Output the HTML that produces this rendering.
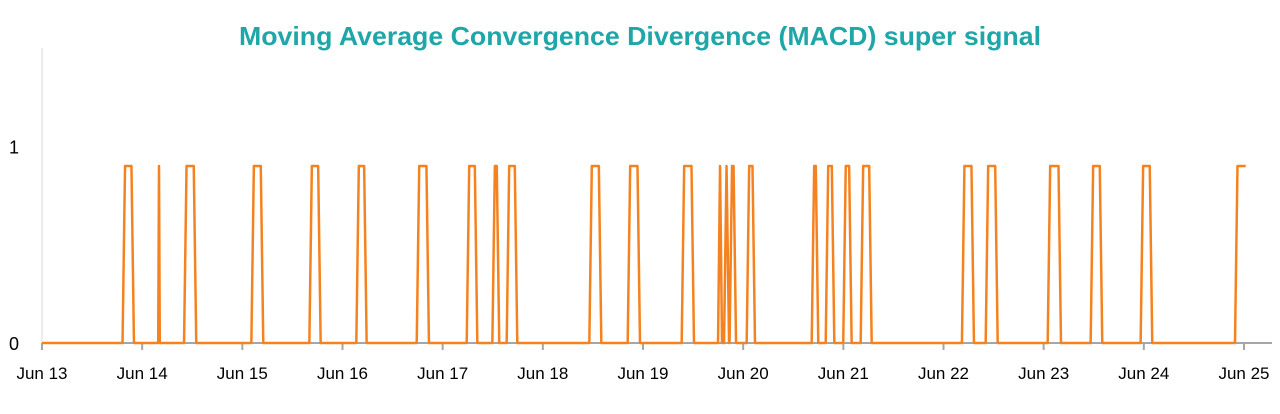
<!DOCTYPE html>
<html><head><meta charset="utf-8"><style>
html,body{margin:0;padding:0;background:#fff;}
svg{display:block;font-family:"Liberation Sans",sans-serif;}
</style></head><body>
<svg id="chart" width="1280" height="414" viewBox="0 0 1280 414">
<text x="640" y="45" text-anchor="middle" font-size="26" font-weight="bold" fill="#1fa6a8" textLength="802" lengthAdjust="spacingAndGlyphs">Moving Average Convergence Divergence (MACD) super signal</text>
<g id="axes"></g>
<g id="series"></g>
</svg>
<script>
const tickLabels = ["Jun 13","Jun 14","Jun 15","Jun 16","Jun 17","Jun 18","Jun 19","Jun 20","Jun 21","Jun 22","Jun 23","Jun 24","Jun 25"];
const yTicks = [0, 1];
const pulseStarts = [0.804,1.160,1.418,2.090,2.669,3.138,3.741,4.240,4.496,4.639,5.464,5.847,6.386,6.749,6.809,6.864,7.035,7.684,7.824,7.999,8.173,9.184,9.421,10.040,10.469,10.968,11.910];
const pulseEnds   = [0.918,1.176,1.540,2.209,2.782,3.241,3.863,4.346,4.565,4.745,5.584,5.970,6.509,6.789,6.859,6.929,7.118,7.750,7.910,8.083,8.283,9.304,9.541,10.173,10.585,11.084,12.017];
const signalLevel = 0.9;
const xMax = 12, yMax = 1.5;

const NS = "http://www.w3.org/2000/svg";
const X0 = 42, X1 = 1244, Y0 = 343, Y1 = 48;
const xs = v => X0 + (X1 - X0) * v / xMax;
const ys = v => Y0 - (Y0 - Y1) * v / yMax;
function mk(tag, attrs, parent){const e=document.createElementNS(NS,tag);for(const k in attrs)e.setAttribute(k,attrs[k]);parent.appendChild(e);return e;}
const axes = document.getElementById('axes');
const series = document.getElementById('series');

const yAxis = mk('line',{x1:X0,x2:X0,y1:Y1,y2:Y0,stroke:'#d9d9d9','stroke-width':1},axes);


yTicks.forEach(v=>{
  const t = mk('text',{x:19,y:ys(v)+7,'text-anchor':'end','font-size':18,fill:'#000'},axes);
  t.textContent = String(v);
  
  
});
const xAxis = mk('line',{x1:X0,x2:1272,y1:Y0,y2:Y0,stroke:'#a6a6a6','stroke-width':2},axes);


tickLabels.forEach((lab,i)=>{
  const x = xs(i);
  const tk = mk('line',{x1:x,x2:x,y1:Y0,y2:Y0+7,stroke:'#a6a6a6','stroke-width':2},axes);
  
  
  const t = mk('text',{x:x,y:379,'text-anchor':'middle','font-size':17,fill:'#000'},axes);
  t.textContent = lab;
  
  
});

const ramp = 0.025;
let d = 'M' + xs(0) + ' ' + ys(0);
pulseStarts.forEach((s,i)=>{
  const e = pulseEnds[i];
  const r = Math.min(ramp, (e - s) / 2);
  d += ' L' + xs(s) + ' ' + ys(0) + ' L' + xs(s + r) + ' ' + ys(signalLevel);
  if (e >= xMax) { d += ' L' + xs(e) + ' ' + ys(signalLevel); }
  else { d += ' L' + xs(e - r) + ' ' + ys(signalLevel) + ' L' + xs(e) + ' ' + ys(0); }
});
const path = mk('path',{d:d,fill:'none',stroke:'#f58220','stroke-width':2.5,'stroke-linejoin':'round'},series);


</script>
</body></html>
